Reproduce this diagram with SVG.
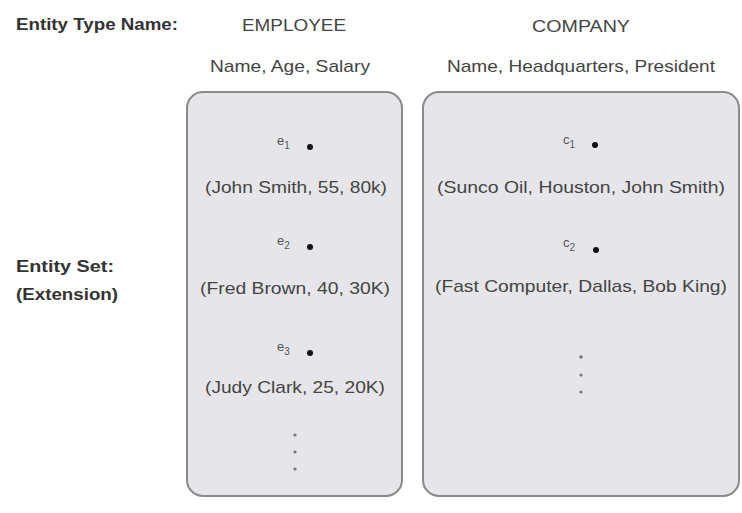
<svg xmlns="http://www.w3.org/2000/svg" width="742" height="513" viewBox="0 0 742 513">
<style>
.lbl{font-family:"Liberation Sans",Arial,sans-serif;font-weight:bold;font-size:17px;fill:#333}
.t{font-family:"Liberation Sans",Arial,sans-serif;font-size:17px;fill:#444;text-anchor:middle}
.v{font-family:"Liberation Sans",Arial,sans-serif;font-size:13px;fill:#555}
.s{font-size:10px}
.box{fill:#e6e6ea;stroke:#8a8a8a;stroke-width:2}
.dot{fill:#111}
.el{fill:#777}
</style>
<rect width="742" height="513" fill="#fff"/>
<g id="labels">
<text class="lbl" x="16" y="30" textLength="162" lengthAdjust="spacingAndGlyphs">Entity Type Name:</text>
<text class="lbl" x="16" y="272" textLength="98" lengthAdjust="spacingAndGlyphs">Entity Set:</text>
<text class="lbl" x="16" y="300" textLength="102" lengthAdjust="spacingAndGlyphs">(Extension)</text>
</g>
<g id="employee">
<text class="t" x="294" y="31" textLength="104" lengthAdjust="spacingAndGlyphs">EMPLOYEE</text>
<text class="t" x="290" y="72" textLength="160" lengthAdjust="spacingAndGlyphs">Name, Age, Salary</text>
<rect class="box" x="187" y="92" width="215" height="404" rx="16"/>
<text class="v" x="277" y="145">e<tspan class="s" dy="4">1</tspan></text>
<circle class="dot" cx="310" cy="147" r="3"/>
<text class="t" x="296" y="193" textLength="182" lengthAdjust="spacingAndGlyphs">(John Smith, 55, 80k)</text>
<text class="v" x="277" y="245">e<tspan class="s" dy="4">2</tspan></text>
<circle class="dot" cx="310" cy="247" r="3"/>
<text class="t" x="295" y="294" textLength="190" lengthAdjust="spacingAndGlyphs">(Fred Brown, 40, 30K)</text>
<text class="v" x="277" y="351">e<tspan class="s" dy="4">3</tspan></text>
<circle class="dot" cx="310" cy="353" r="3"/>
<text class="t" x="295" y="393" textLength="180" lengthAdjust="spacingAndGlyphs">(Judy Clark, 25, 20K)</text>
<circle class="el" cx="295" cy="435" r="1.6"/>
<circle class="el" cx="295" cy="452" r="1.6"/>
<circle class="el" cx="295" cy="469" r="1.6"/>
</g>
<g id="company">
<text class="t" x="581" y="32" textLength="98" lengthAdjust="spacingAndGlyphs">COMPANY</text>
<text class="t" x="581" y="72" textLength="268" lengthAdjust="spacingAndGlyphs">Name, Headquarters, President</text>
<rect class="box" x="423" y="92" width="316" height="404" rx="16"/>
<text class="v" x="563" y="144">c<tspan class="s" dy="4">1</tspan></text>
<circle class="dot" cx="595" cy="145" r="3"/>
<text class="t" x="581" y="193" textLength="288" lengthAdjust="spacingAndGlyphs">(Sunco Oil, Houston, John Smith)</text>
<text class="v" x="563" y="247">c<tspan class="s" dy="4">2</tspan></text>
<circle class="dot" cx="596" cy="250" r="3"/>
<text class="t" x="581" y="292" textLength="292" lengthAdjust="spacingAndGlyphs">(Fast Computer, Dallas, Bob King)</text>
<circle class="el" cx="581" cy="357" r="1.8"/>
<circle class="el" cx="581" cy="375" r="1.6"/>
<circle class="el" cx="581" cy="392" r="1.6"/>
</g>
<g id="connectors"></g>
</svg>
